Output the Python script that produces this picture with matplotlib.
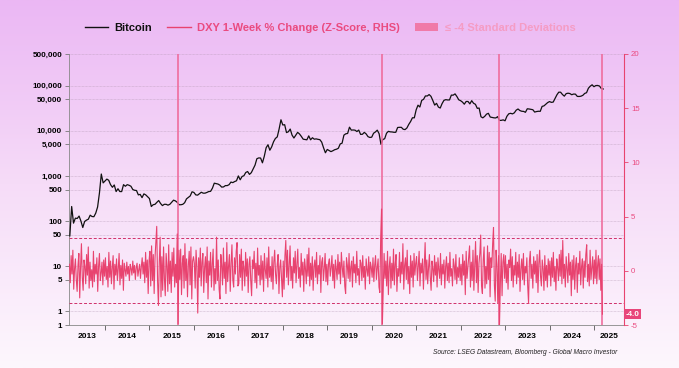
import numpy as np
import matplotlib
matplotlib.use("Agg")
import matplotlib.pyplot as plt
import matplotlib.transforms as mtransforms
from matplotlib.lines import Line2D
from matplotlib.patches import Patch
from matplotlib.colors import LinearSegmentedColormap

plt.rcParams["font.family"] = ["Liberation Sans", "DejaVu Sans"]
plt.rcParams["axes.unicode_minus"] = False

# Bitcoin, semi-monthly (1st / 15th of each month), USD
btc2013 = [47, 210, 90, 116, 114, 129, 100, 72, 98, 105, 110, 135, 126, 125, 150, 205, 420, 1100, 700]
btc2014 = [770, 850, 800, 640, 560, 630, 450, 520, 450, 450, 640, 590,
           640, 620, 590, 500, 480, 475, 380, 390, 330, 400, 380, 345]
btc2015 = [315, 210, 230, 235, 260, 285, 245, 220, 235, 235, 225, 235,
           260, 290, 280, 260, 230, 230, 235, 255, 310, 335, 360, 445]
btc2016 = [430, 380, 375, 405, 435, 415, 415, 430, 450, 455, 535, 690,
           675, 660, 625, 565, 570, 610, 610, 640, 730, 710, 750, 780]
btc2017 = [1000, 820, 970, 1010, 1190, 1250, 1080, 1180, 1420, 1730, 2400, 2500,
           2490, 1950, 2720, 4200, 4900, 3700, 4400, 5700, 6750, 7300, 10900, 17500]
btc2018 = [13400, 13600, 9100, 9500, 10900, 8000, 6900, 8000, 9200, 8500, 7500, 6500,
           6400, 6300, 7700, 6300, 7000, 6500, 6600, 6450, 6350, 5600, 4200, 3250]
btc2019 = [3850, 3650, 3450, 3600, 3800, 3900, 4100, 5100, 5300, 8000, 8550, 8700,
           12000, 10300, 10400, 10300, 9600, 10350, 8300, 8350, 9200, 8500, 7400, 7100]
btc2020 = [7200, 8800, 9400, 10300, 8600, 5000, 6400, 6650, 8800, 9700, 9450, 9400,
           9230, 9240, 11800, 11900, 11900, 10800, 10600, 11500, 13800, 16000, 19400, 19300]
btc2021 = [29000, 36800, 33500, 47000, 49600, 59000, 58800, 63200, 57800, 46700, 37000, 40400,
           33500, 31800, 39900, 47000, 48800, 48000, 48100, 61500, 61300, 65500, 57200, 48400]
btc2022 = [46300, 43100, 38700, 44500, 44400, 39300, 46300, 40500, 38500, 31300, 31800, 20400,
           19300, 20800, 23300, 24300, 20100, 19700, 19300, 19200, 20500, 16900, 17000, 17400]
btc2023 = [16600, 20900, 23700, 24300, 23600, 24900, 28500, 30300, 28000, 27000, 26800, 25600,
           30600, 30300, 29700, 29200, 25900, 26600, 27000, 26900, 34600, 35500, 38700, 42000]
btc2024 = [44200, 42500, 43100, 52000, 62400, 71400, 71300, 63400, 58300, 66300, 67800, 66600,
           62700, 64900, 64600, 57600, 57300, 58200, 60800, 67000, 69500, 87300, 97000, 104000]
btc2025 = [94400, 100000, 100600, 97500, 86000, 84000]

# DXY 1-week % change, z-score (weekly)
z2013 = [0.6, -1.1, 1.4, -0.3, 1.9, -1.7, 0.2, 1.1, -0.8, -1.9, 0.5, 1.6, -2.5, 0.3, 2.5, -0.6, -1.8, 1.0, 0.4, -1.2, 1.5,
         -0.4, 2.2, -1.6, 0.8, -0.9, 0.1, -1.5, 1.8, -1.0, 0.6, -0.3, 1.2, -1.9, 0.4, 1.6, -0.9, -0.2, 0.8, -1.3, 1.0, -0.5]
z2014 = [1.2, -0.8, 0.4, -1.5, 1.7, -0.6, 0.9, -1.2, 0.3, 1.4, -1.7, 0.6, -0.4, 1.1, -0.9, 0.2, 1.6, -1.3, 0.5, -0.7, 1.0, -1.8, 0.7, 0.1, -0.5, 0.8,
         -0.3, 0.4, -0.9, 0.6, 0.2, -0.4, 0.9, -0.2, 0.5, -0.8, 0.3, 0.7, -0.5, 0.1, 0.6, -0.7, 0.4, 1.2, -0.3, 0.8, -1.1, 1.7, -0.6, 1.0, -2.1, 0.9]
z2015 = [1.8, -1.4, 2.3, -0.9, 1.5, -2.1, 1.2, 2.6, 4.1, -1.0, -3.2, 0.8, 3.1, -2.4, 1.3, -1.8, 2.2, -0.7, -2.3, 1.6, 0.4, -1.9, 2.4, -1.2, 0.9, -2.0,
         1.7, -0.5, 2.1, -1.5, 0.6, -1.1, 3.4, -4.9, 1.9, -0.8, 2.0, -2.2, 0.7, 1.4, -1.6, 2.5, -0.9, 1.1, -2.4, 0.5, 1.8, -1.3, 2.2, -2.6, 0.9, 1.3]
z2016 = [0.7, -1.6, 1.9, 0.4, -3.9, 1.2, -0.6, 2.1, -1.4, 0.8, 1.6, -2.0, 0.3, 1.3, -1.1, 2.2, -2.6, 0.9, -0.4, 1.7, -1.5, 0.6, 2.0, -1.8, 0.2, -1.2,
         3.1, -0.9, 1.0, -1.7, -2.6, 1.5, 0.5, -1.3, 2.1, -0.7, 0.8, -2.1, 2.6, -1.0, 0.4, 1.5, -1.9, 0.7, 2.4, -0.8, -1.5, 1.2, -0.3, 1.8, 2.6, -1.4]
z2017 = [-1.2, 1.5, -0.6, 2.0, -1.8, 0.9, 0.3, -1.4, 1.7, -0.5, 1.1, -2.0, 0.6, 1.3, -0.9, -2.3, 1.0, 0.2, 1.8, -1.1, 0.7, -1.6, 2.1, -0.4, 0.5, -1.3,
         1.4, -0.8, 0.9, -1.9, 1.6, 0.1, -0.7, 1.2, -1.5, 2.2, -0.6, 0.4, -1.0, 1.3, -1.7, 0.8, 1.9, -0.3, -1.2, 0.6, 1.5, -2.1, 0.3, 1.0, -0.8, -2.4]
z2018 = [0.9, -1.7, 1.4, 2.8, -0.6, 1.9, -1.3, 0.5, 2.3, -0.9, 0.4, -1.6, 1.2, -0.2, 1.8, -1.1, 0.6, 2.0, -0.7, 0.3, -1.5, 1.6, -0.4, 0.8, -1.9, 1.1,
         0.2, -1.2, 1.5, -0.5, 2.1, -1.4, 0.7, -0.8, 1.3, -1.8, 0.4, 1.0, -0.6, 1.7, -1.2, 0.5, -0.3, 1.4, -2.0, 0.8, 1.2, -0.9, 0.2, 1.6, -1.0, 0.6]
z2019 = [-1.3, 0.7, 1.1, -0.5, 0.3, 1.4, -0.9, 0.6, -1.6, 1.0, 0.2, -0.8, 1.5, -0.3, 0.8, -1.2, 1.7, 0.4, -0.6, 0.9, -1.4, -2.1, 1.2, 0.5, -0.7, 1.6,
         -1.0, 0.3, 0.9, -1.5, 1.3, -0.2, 0.6, -1.1, 1.8, -0.4, 0.2, -1.3, 1.0, 0.7, -0.9, 1.4, -0.6, 0.4, -1.7, 1.1, 0.1, -0.5, 1.3, -1.2, 0.8, 0.3]
z2020 = [-0.6, 1.2, -1.0, 0.5, 1.4, -0.8, 0.3, 1.1, -1.5, -2.0, 3.0, 5.7, -4.9, -1.8, 1.6, -0.7, 0.9, -1.4, 1.8, -2.2, 0.4, 1.3, -1.6, 0.7, -0.9, 2.0,
         -1.3, 0.6, 1.5, -1.9, 0.2, -0.5, 1.7, -1.1, 0.8, -0.3, 2.5, -1.7, 0.5, 1.2, -0.8, 1.9, -1.2, 0.4, -2.1, 1.4, -0.6, 0.9, -1.5, 1.6, -0.4, 0.7]
z2021 = [1.3, -0.9, 0.4, 1.8, -1.4, 0.7, -0.2, 1.1, -1.7, 0.5, 2.6, -0.8, 1.0, -1.2, 0.3, 1.5, -0.6, -1.8, 0.9, 0.2, -1.0, 1.4, -0.4, 0.8, -1.5, 1.2,
         0.1, -0.7, 1.6, -1.3, 0.6, -0.3, 1.0, -1.6, 0.4, 1.3, -0.9, 0.7, -1.1, 1.7, -0.5, 0.2, -1.4, 1.1, 0.5, -0.8, 1.5, -1.2, 0.3, -0.6, 1.2, -0.9]
z2022 = [0.6, -1.3, 1.5, -0.4, 0.9, -2.2, 1.8, -0.7, 0.3, 1.2, 2.3, -1.5, 0.8, -0.9, 1.9, -1.8, 0.5, 2.7, -1.1, 1.4, -2.0, 0.7, 1.6, 3.3, -1.4, -2.1,
         1.0, 2.2, -1.6, 0.4, -1.2, 2.3, -0.8, 1.7, -2.4, 1.2, 0.3, 2.5, 4.0, -1.3, -2.8, 1.9, 0.6, -3.0, 1.4, -5.0, -1.2, 1.6, -2.3, 0.8, 1.5, -0.7]
z2023 = [1.4, -1.1, 0.6, -1.7, 1.0, 0.3, 2.0, -0.9, 1.3, -1.5, 0.5, -0.4, 1.7, -1.2, 0.8, -0.6, 1.5, -1.9, 0.2, 1.1, -0.8, 1.6, -1.3, 0.4, -0.2, 1.2,
         -1.4, -3.0, 0.9, 1.8, -0.7, 0.6, -1.6, 1.3, -0.3, 0.9, -1.1, 1.5, -2.0, 0.7, 1.9, -0.5, -1.4, 1.0, 0.2, -1.8, 1.4, -0.9, 0.5, -1.5, 1.1, -0.4]
z2024 = [0.9, -1.4, 1.2, -0.6, 1.7, -1.0, 0.4, -1.8, 1.1, 0.3, -0.9, 1.5, -0.5, 1.9, -1.2, 2.8, -0.7, 0.6, -1.5, 1.3, 0.2, -1.1, 1.6, -0.4, 0.8, -2.3,
         1.0, -0.8, 1.4, -1.7, 0.5, 1.2, -2.0, 0.7, -0.3, 1.8, -1.3, 0.4, 1.1, -1.6, 0.9, -0.6, 1.5, 2.4, -1.0, 0.6, -1.4, 1.9, -0.8, 0.3, 1.3, -1.2]
z2025 = [1.0, -0.7, 1.9, -1.2, 0.5, 1.4, -0.8, 1.1, -1.8, 0.6, -4.0]

left_ticks = [0.5, 1, 5, 10, 50, 100, 500, 1000, 5000, 10000, 50000, 100000, 500000]
left_labels = ["1", "1", "5", "10", "50", "100", "500", "1,000", "5,000", "10,000", "50,000", "100,000", "500,000"]
right_ticks = [-5, 0, 5, 10, 15, 20]
years = list(range(2013, 2026))

PINK = "#e8436f"
PINK_TXT = "#ea4b80"


def semi(year, vals, first=0):
    # semi-monthly positions as decimal years
    return year + (first + np.arange(len(vals))) / 24


def weekly(year, vals, start=0.0, end=1.0):
    n = len(vals)
    return year + start + (end - start) * (np.arange(n) + 0.5) / n


btc_x = np.concatenate([semi(2013, btc2013, 5)] +
                       [semi(y, v) for y, v in zip(range(2014, 2026),
                        [btc2014, btc2015, btc2016, btc2017, btc2018, btc2019,
                         btc2020, btc2021, btc2022, btc2023, btc2024, btc2025])])
btc_y = np.concatenate([btc2013, btc2014, btc2015, btc2016, btc2017, btc2018, btc2019,
                        btc2020, btc2021, btc2022, btc2023, btc2024, btc2025])

z_x = np.concatenate([weekly(2013, z2013, start=0.19)] +
                     [weekly(y, v) for y, v in zip(range(2014, 2025),
                      [z2014, z2015, z2016, z2017, z2018, z2019, z2020, z2021, z2022, z2023, z2024])] +
                     [weekly(2025, z2025, end=0.2)])
z_y = np.concatenate([z2013, z2014, z2015, z2016, z2017, z2018, z2019, z2020, z2021,
                      z2022, z2023, z2024, z2025])

fig = plt.figure(figsize=(6.79, 3.68), dpi=100)

# background gradient
bg = fig.add_axes([0, 0, 1, 1], zorder=-10)
cmap = LinearSegmentedColormap.from_list("bg", ["#ebb7f4", "#f6dcf8", "#fdf7fd"])
bg.imshow(np.linspace(0, 1, 256).reshape(-1, 1), aspect="auto", cmap=cmap, extent=[0, 1, 0, 1])
bg.axis("off")

ax = fig.add_axes([69 / 679, 1 - 325 / 368, 555 / 679, 271 / 368])
ax.patch.set_visible(False)
ax.set_yscale("log")
ax.set_ylim(0.5, 500000)
xmin, xmax = 2013.19, 2025.676
ax.set_xlim(xmin, xmax)
ax.plot(btc_x, btc_y, color="#111111", lw=0.9, zorder=5)

ax.set_yticks(left_ticks)
ax.set_yticklabels(left_labels)
ax.yaxis.set_minor_locator(matplotlib.ticker.NullLocator())
ax.tick_params(axis="y", labelsize=5.8, length=3, pad=2, color="#777777", width=0.6)
for t in ax.get_yticklabels():
    t.set_fontweight("bold")
ax.yaxis.grid(True, color="#b398b3", lw=0.5, linestyle=(0, (1, 1)), alpha=0.7)

ax.set_xticks(years[1:])
ax.set_xticklabels([])
centers = [(max(y, xmin) + min(y + 1, xmax)) / 2 for y in years]
ax.set_xticks(centers, minor=True)
ax.set_xticklabels([str(y) for y in years], minor=True)
ax.tick_params(axis="x", which="major", length=3.5, color="#555555", width=0.6)
ax.tick_params(axis="x", which="minor", length=0, pad=6, labelsize=6)
for t in ax.get_xticklabels(minor=True):
    t.set_fontweight("bold")

for s in ["top", "right"]:
    ax.spines[s].set_visible(False)
ax.spines["left"].set_color("#888888")
ax.spines["bottom"].set_color("#888888")
ax.spines["left"].set_linewidth(0.6)
ax.spines["bottom"].set_linewidth(0.6)

ax2 = ax.twinx()
ax2.patch.set_visible(False)
ax2.set_ylim(-5, 20)
ax2.set_yticks(right_ticks)
ax2.tick_params(axis="y", labelsize=5.6, labelcolor=PINK_TXT, color=PINK, length=3, pad=2, width=0.6)
for s in ["top", "left", "bottom"]:
    ax2.spines[s].set_visible(False)
ax2.spines["right"].set_color(PINK)
ax2.spines["right"].set_linewidth(0.8)

ax2.plot(z_x, z_y, color=PINK, lw=0.8, zorder=3)
ax2.axhline(3, color="#d0306a", lw=0.7, linestyle=(0, (3, 2)))
ax2.axhline(-3, color="#d0306a", lw=0.7, linestyle=(0, (3, 2)))
for xv in z_x[z_y <= -4]:
    ax2.axvline(xv, color="#ef6b9c", lw=1.3, alpha=0.9, zorder=2)

trans = mtransforms.blended_transform_factory(ax2.transAxes, ax2.transData)
ax2.text(1.003, z_y[-1], f"{z_y[-1]:.1f}", transform=trans, ha="left", va="center",
         fontsize=5.8, fontweight="bold", color="white",
         bbox=dict(boxstyle="square,pad=0.2", fc="#e8457a", ec="none"))

handles = [Line2D([], [], color="#111111", lw=1.0),
           Line2D([], [], color=PINK, lw=1.0),
           Patch(facecolor="#f07aa8", edgecolor="none")]
labels = ["Bitcoin", "DXY 1-Week % Change (Z-Score, RHS)", "\u2264 -4 Standard Deviations"]
fig.legend(handles, labels, loc="center", bbox_to_anchor=(0.486, 0.924), ncol=3, frameon=False,
           prop={"size": 8, "weight": "bold"}, labelcolor=["#111111", PINK_TXT, "#f59cc4"],
           handlelength=2.1, handletextpad=0.55, columnspacing=1.4)

fig.text(0.909, 0.041, "Source: LSEG Datastream, Bloomberg - Global Macro Investor",
         ha="right", va="center", fontsize=4.8, style="italic", color="#222222")

fig.savefig("out.png", dpi=100)
